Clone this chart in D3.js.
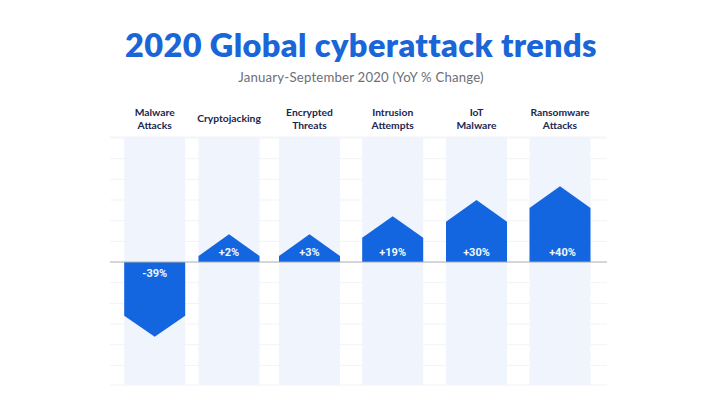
<!DOCTYPE html>
<html>
<head>
<meta charset="utf-8">
<script src="https://d3js.org/d3.v7.min.js"></script>
<style>
  html, body { margin: 0; padding: 0; background: #fff; }
  svg { display: block; }
</style>
</head>
<body>
<div id="chart"></div>
<script>
var width  = 721;
var height = 412;

var title    = "2020 Global cyberattack trends";
var subtitle = "January-September 2020 (YoY % Change)";

var categories = ["Malware Attacks", "Cryptojacking", "Encrypted Threats",
                  "Intrusion Attempts", "IoT Malware", "Ransomware Attacks"];
var categoryLines = [["Malware", "Attacks"], ["Cryptojacking"], ["Encrypted", "Threats"],
                     ["Intrusion", "Attempts"], ["IoT", "Malware"], ["Ransomware", "Attacks"]];
var pctChange = [-39, 2, 3, 19, 30, 40];

// The drawn heights don't follow the printed % so they are read off the
// picture separately, in gridline units (10 = one gridline).
var shoulderValues = [-26, 2.9, 2.9, 11.7, 19.5, 26.2];
var tipValues      = [-36.2, 13.5, 13.5, 22.2, 30, 36.7];
var gridTicks      = [-50, -40, -30, -20, -10, 10, 20, 30, 40, 50, 60];

var barWidth = 61;

// Columns are not evenly spaced in the original
var x = d3.scaleOrdinal()
          .domain(categories)
          .range([154.7, 229, 309.5, 392.7, 476.5, 560]);

// Zero sits a little below the middle of the panels
var y = d3.scaleLinear()
          .domain([-59.5, 60.5])
          .range([385, 137]);

var yMin = y.domain()[0];
var yMax = y.domain()[1];

var rows = categories.map(function(c, i) {
  return { name: c, lines: categoryLines[i], pct: pctChange[i],
           shoulder: shoulderValues[i], tip: tipValues[i] };
});

var svg = d3.select("#chart")
            .append("svg")
            .attr("width", width)
            .attr("height", height);

svg.append("rect")
   .attr("width", width)
   .attr("height", height)
   .attr("fill", "#fff");

// Title block
svg.append("text")
   .attr("x", 361)
   .attr("y", 57)
   .attr("text-anchor", "middle")
   .style("font", "800 32.5px Lato")
   .style("letter-spacing", "0.38px")
   .style("fill", "#1a66d8")
   .text(title);

svg.append("text")
   .attr("x", 361)
   .attr("y", 82)
   .attr("text-anchor", "middle")
   .style("font", "400 13.2px Lato")
   .style("letter-spacing", "0.2px")
   .style("fill", "#6b6f78")
   .text(subtitle);

// Faint gridlines
svg.selectAll(".grid")
   .data(gridTicks.concat([yMin, yMax]))
   .enter()
   .append("line")
   .attr("class", "grid")
   .attr("x1", 110)
   .attr("x2", 607)
   .attr("y1", function(d) { return y(d); })
   .attr("y2", function(d) { return y(d); })
   .style("stroke", "#f2f3f7")
   .style("stroke-width", 1);

// Pale column behind each bar
svg.selectAll(".panel")
   .data(rows)
   .enter()
   .append("rect")
   .attr("class", "panel")
   .attr("x", function(d) { return x(d.name) - barWidth / 2; })
   .attr("y", y(yMax))
   .attr("width", barWidth)
   .attr("height", y(yMin) - y(yMax))
   .style("fill", "#f0f4fd");

// Arrow shaped bars
var line = d3.line()
             .x(function(p) { return p[0]; })
             .y(function(p) { return y(p[1]); });

svg.selectAll(".bar")
   .data(rows)
   .enter()
   .append("path")
   .attr("class", "bar")
   .attr("d", function(d) {
     var cx = x(d.name);
     var l = cx - barWidth / 2;
     var r = cx + barWidth / 2;
     return line([[l, 0], [l, d.shoulder], [cx, d.tip], [r, d.shoulder], [r, 0]]) + "Z";
   })
   .style("fill", "#1366e0");

// Zero line
svg.append("line")
   .attr("x1", 110)
   .attr("x2", 607)
   .attr("y1", y(0))
   .attr("y2", y(0))
   .style("stroke", "#a9acb3")
   .style("stroke-width", 1);

// Value labels
svg.selectAll(".value")
   .data(rows)
   .enter()
   .append("text")
   .attr("class", "value")
   .attr("x", function(d) { return x(d.name) + (d.pct == 40 ? 2.5 : 0); })
   .attr("y", function(d) { return d.pct < 0 ? y(0) + 15 : y(0) - 6; })
   .attr("text-anchor", "middle")
   .style("font", "700 11px Roboto")
   .style("fill", "#f2f6fe")
   .text(function(d) { return (d.pct > 0 ? "+" : "") + d.pct + "%"; });

// Category labels, one or two lines
var labels = svg.selectAll(".label")
   .data(rows)
   .enter()
   .append("text")
   .attr("class", "label")
   .attr("text-anchor", "middle")
   .style("font", "700 10.3px Lato")
   .style("fill", "#1b2650");

labels.selectAll("tspan")
   .data(function(d) {
     return d.lines.map(function(t, i) {
       return { text: t, cx: x(d.name), ly: d.lines.length == 1 ? 122 : 115.5 + i * 13 };
     });
   })
   .enter()
   .append("tspan")
   .attr("x", function(d) { return d.cx; })
   .attr("y", function(d) { return d.ly; })
   .text(function(d) { return d.text; });
</script>
</body>
</html>
